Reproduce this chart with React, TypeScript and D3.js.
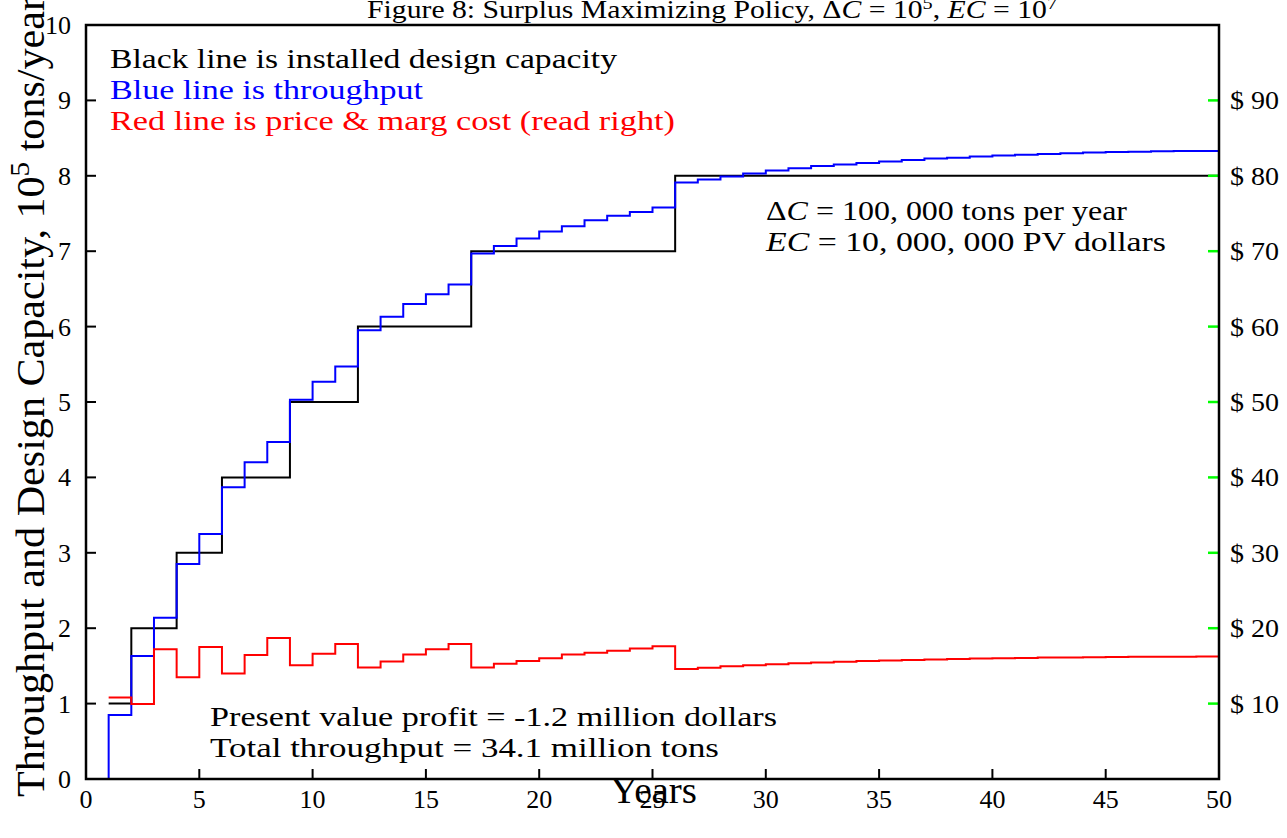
import React from 'react';
import * as d3 from 'd3';

// Period start years (each step holds from year t to t+1)
const periodYears = [
  1, 2, 3, 4, 5, 6, 7, 8, 9, 10, 11, 12, 13, 14, 15, 16, 17, 18, 19, 20, 21, 22, 23, 24, 25,
  26, 27, 28, 29, 30, 31, 32, 33, 34, 35, 36, 37, 38, 39, 40, 41, 42, 43, 44, 45, 46, 47, 48, 49,
];

// Installed design capacity, 10^5 tons/year
const capacity = [
  1, 2, 2, 3, 3, 4, 4, 4, 5, 5, 5, 6, 6, 6, 6, 6, 7, 7, 7, 7, 7, 7, 7, 7, 7,
  8, 8, 8, 8, 8, 8, 8, 8, 8, 8, 8, 8, 8, 8, 8, 8, 8, 8, 8, 8, 8, 8, 8, 8,
];

// Throughput, 10^5 tons/year
const throughput = [
  0.85, 1.63, 2.14, 2.85, 3.25, 3.87, 4.2, 4.47, 5.03, 5.27, 5.47, 5.95, 6.13, 6.3, 6.43, 6.56,
  6.97, 7.07, 7.17, 7.26, 7.33, 7.41, 7.47, 7.52, 7.58,
  7.91, 7.95, 7.99, 8.03, 8.07, 8.1, 8.13, 8.15, 8.17, 8.19, 8.21, 8.23, 8.24, 8.255, 8.27,
  8.28, 8.29, 8.3, 8.31, 8.315, 8.32, 8.325, 8.33, 8.33,
];

// Price & marginal cost, dollars (right axis)
const price = [
  10.8, 9.95, 17.2, 13.5, 17.5, 14.0, 16.45, 18.7, 15.1, 16.6, 17.9, 14.8, 15.6, 16.5, 17.2, 17.9,
  14.8, 15.3, 15.65, 16.0, 16.5, 16.75, 17.0, 17.3, 17.6,
  14.6, 14.76, 14.94, 15.1, 15.22, 15.34, 15.45, 15.55, 15.64, 15.72, 15.79, 15.86, 15.92, 15.97,
  16.02, 16.06, 16.1, 16.13, 16.16, 16.18, 16.2, 16.22, 16.23, 16.24,
];

const xTicks = [0, 5, 10, 15, 20, 25, 30, 35, 40, 45, 50];
const yTicks = [0, 1, 2, 3, 4, 5, 6, 7, 8, 9, 10];
const priceTicks = [10, 20, 30, 40, 50, 60, 70, 80, 90];

const W = 1287;
const H = 838;
const FONT = '"Liberation Serif", "DejaVu Serif", serif';

const x = d3.scaleLinear().domain([0, 50]).range([86, 1219]);
const y = d3.scaleLinear().domain([0, 10]).range([779, 25]);
const y2 = d3.scaleLinear().domain([0, 100]).range([779, 25]);

type Pt = [number, number];

function stepPoints(values: number[]): Pt[] {
  const pts: Pt[] = periodYears.map((t, i) => [t, values[i]] as Pt);
  pts.push([50, values[values.length - 1]]);
  return pts;
}

export default function App() {
  const line = d3
    .line<Pt>()
    .x((d) => x(d[0]))
    .y((d) => y(d[1]))
    .curve(d3.curveStepAfter);
  const line2 = d3
    .line<Pt>()
    .x((d) => x(d[0]))
    .y((d) => y2(d[1]))
    .curve(d3.curveStepAfter);

  const capPath = line(stepPoints(capacity)) || '';
  const thrPts: Pt[] = [[1, 0], ...stepPoints(throughput)];
  const thrPath = line(thrPts) || '';
  const pricePath = line2(stepPoints(price)) || '';

  const textStyle = { fontFamily: FONT };

  return (
    <svg
      width={W}
      height={H}
      style={{ position: 'absolute', left: 0, top: 0, background: '#fff' }}
    >
      <rect x={0} y={0} width={W} height={H} fill="#fff" />

      {/* title */}
      <text x={367} y={18} fontSize={25} textLength={690} lengthAdjust="spacingAndGlyphs" style={textStyle}>
        Figure 8: Surplus Maximizing Policy, Δ<tspan fontStyle="italic">C</tspan> = 10
        <tspan fontSize={17} dy={-9}>5</tspan>
        <tspan dy={9}>, </tspan>
        <tspan fontStyle="italic">EC</tspan> = 10
        <tspan fontSize={17} dy={-9}>7</tspan>
      </text>

      {/* data lines */}
      <path d={capPath} fill="none" stroke="#000" strokeWidth={2} />
      <path d={thrPath} fill="none" stroke="#0000ff" strokeWidth={2} />
      <path d={pricePath} fill="none" stroke="#ff0000" strokeWidth={2} />

      {/* left ticks */}
      {yTicks.map((t) => (
        <g key={'yl' + t}>
          {t > 0 && t < 10 && (
            <line x1={x(0)} x2={x(0) + 10} y1={y(t)} y2={y(t)} stroke="#000" strokeWidth={2} />
          )}
          <text x={71} y={y(t) + 9} fontSize={26} textAnchor="end" style={textStyle}>
            {t}
          </text>
        </g>
      ))}

      {/* bottom ticks */}
      {xTicks.map((t) => (
        <g key={'xt' + t}>
          {t > 0 && t < 50 && (
            <line x1={x(t)} x2={x(t)} y1={y(0)} y2={y(0) - 10} stroke="#000" strokeWidth={2} />
          )}
          <text x={x(t)} y={808} fontSize={26} textAnchor="middle" style={textStyle}>
            {t}
          </text>
        </g>
      ))}

      {/* right (price) ticks */}
      {priceTicks.map((p) => (
        <g key={'yr' + p}>
          <line x1={x(50) - 11} x2={x(50)} y1={y2(p)} y2={y2(p)} stroke="#00ff00" strokeWidth={2.5} />
          <text x={1230} y={y2(p) + 9} fontSize={26} textLength={49} lengthAdjust="spacingAndGlyphs" style={textStyle}>
            $ {p}
          </text>
        </g>
      ))}

      {/* frame */}
      <rect
        x={x(0)}
        y={y(10)}
        width={x(50) - x(0)}
        height={y(0) - y(10)}
        fill="none"
        stroke="#000"
        strokeWidth={2.5}
      />

      {/* legend notes */}
      <text x={110} y={68} fontSize={28} fill="#000" textLength={507} lengthAdjust="spacingAndGlyphs" style={textStyle}>
        Black line is installed design capacity
      </text>
      <text x={110} y={99} fontSize={28} fill="#0000ff" textLength={313} lengthAdjust="spacingAndGlyphs" style={textStyle}>
        Blue line is throughput
      </text>
      <text x={110} y={130} fontSize={28} fill="#ff0000" textLength={565} lengthAdjust="spacingAndGlyphs" style={textStyle}>
        Red line is price &amp; marg cost (read right)
      </text>

      <text x={766} y={220} fontSize={28} textLength={361} lengthAdjust="spacingAndGlyphs" style={textStyle}>
        Δ<tspan fontStyle="italic">C</tspan> = 100, 000 tons per year
      </text>
      <text x={766} y={251} fontSize={28} textLength={400} lengthAdjust="spacingAndGlyphs" style={textStyle}>
        <tspan fontStyle="italic">EC</tspan> = 10, 000, 000 PV dollars
      </text>

      <text x={210} y={726} fontSize={28} textLength={567} lengthAdjust="spacingAndGlyphs" style={textStyle}>
        Present value profit = -1.2 million dollars
      </text>
      <text x={210} y={757} fontSize={28} textLength={509} lengthAdjust="spacingAndGlyphs" style={textStyle}>
        Total throughput = 34.1 million tons
      </text>

      {/* axis titles */}
      <text
        transform="translate(44,397) rotate(-90)"
        fontSize={39}
        textAnchor="middle"
        textLength={800}
        lengthAdjust="spacingAndGlyphs"
        style={textStyle}
      >
        Throughput and Design Capacity, 10
        <tspan fontSize={27} dy={-15}>5</tspan>
        <tspan dy={15}> tons/year</tspan>
      </text>
      <text x={610} y={803} fontSize={38} textLength={87} lengthAdjust="spacingAndGlyphs" style={textStyle}>
        Years
      </text>
    </svg>
  );
}
